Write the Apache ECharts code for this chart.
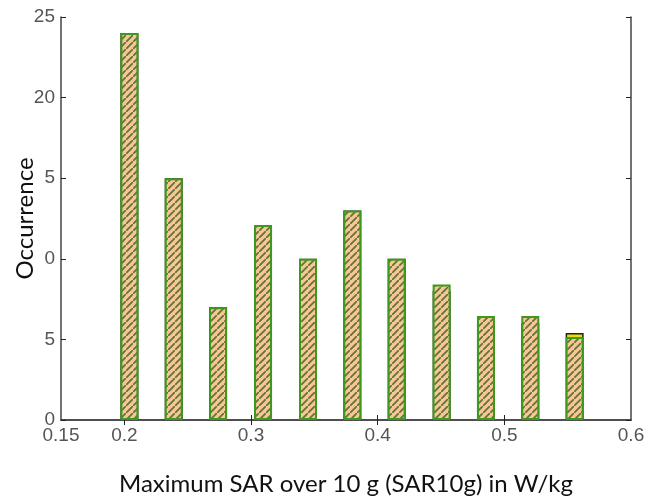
<!DOCTYPE html>
<html>
<head>
<meta charset="utf-8">
<script src="https://cdn.jsdelivr.net/npm/echarts@6/dist/echarts.min.js"></script>
<style>
  html, body { margin: 0; padding: 0; background: #fff; }
  #chart { width: 670px; height: 500px; }
</style>
</head>
<body>
<div id="chart"></div>
<script>
// bin centres (W/kg) and counts
const binCenters = [0.204, 0.239, 0.274, 0.3095, 0.345, 0.380, 0.415, 0.4505, 0.4855, 0.5205, 0.5555]
const countsFront = [24, 15, 7, 12.1, 10, 13, 10, 8.4, 6.45, 6.45, 5.15]
const countsBack = [24, 15, 7, 12, 10, 13, 10, 8, 6, 6, 5.4]
const xLabelValues = [0.15, 0.2, 0.3, 0.4, 0.5, 0.6]
const xTickValues = [0.2, 0.3, 0.4, 0.5]
const yTickLabels = ['0', '5', '0', '5', '20', '25']

// diagonal hatch pattern
function hatch() {
  const s = 7
  const c = document.createElement('canvas')
  c.width = s
  c.height = s
  const ctx = c.getContext('2d')
  ctx.fillStyle = '#f9c596'
  ctx.fillRect(0, 0, s, s)
  ctx.strokeStyle = '#5f7636'
  ctx.lineWidth = 1.8
  ctx.beginPath()
  ctx.moveTo(-1, s + 1); ctx.lineTo(s + 1, -1)
  ctx.moveTo(-s - 1, 1); ctx.lineTo(1, -s - 1)
  ctx.moveTo(s - 1, 2 * s + 1); ctx.lineTo(2 * s + 1, s - 1)
  ctx.stroke()
  return c
}

const chart = echarts.init(document.getElementById('chart'))
const tickFont = { fontFamily: 'Liberation Sans, sans-serif', fontSize: 19, color: '#555' }
const nameFont = { fontFamily: 'Lato, Open Sans, sans-serif', fontSize: 24, color: '#111' }
const lineStyle = { color: '#444', width: 1.5 }

const option = {
  animation: false,
  grid: { left: 61, right: 39, top: 17, bottom: 80, outerBoundsMode: 'none', containLabel: false },
  xAxis: [{
    type: 'value',
    min: 0.15, max: 0.6,
    name: 'Maximum SAR over 10 g (SAR10g) in W/kg',
    nameLocation: 'middle',
    nameGap: 52,
    nameMoveOverlap: false,
    nameTextStyle: nameFont,
    axisLine: { lineStyle: lineStyle },
    axisTick: { inside: true, length: 5, customValues: xTickValues, lineStyle: { color: '#222' } },
    axisLabel: Object.assign({ margin: 6, customValues: xLabelValues, formatter: v => String(Math.round(v * 100) / 100) }, tickFont),
    splitLine: { show: false }
  }, {
    type: 'value', position: 'top',
    min: 0.15, max: 0.6,
    axisLine: { show: true, lineStyle: lineStyle },
    axisTick: { show: true, inside: true, length: 5, customValues: xTickValues, lineStyle: { color: '#222' } },
    axisLabel: { show: false },
    splitLine: { show: false }
  }],
  yAxis: [{
    type: 'value',
    min: 0, max: 25, interval: 5,
    name: 'Occurrence',
    nameLocation: 'middle',
    nameGap: 24,
    nameMoveOverlap: false,
    nameTextStyle: nameFont,
    axisLine: { show: true, lineStyle: lineStyle },
    axisTick: { show: true, inside: true, length: 5, lineStyle: { color: '#222' } },
    axisLabel: Object.assign({ margin: 6, formatter: (v, i) => yTickLabels[i] }, tickFont),
    splitLine: { show: false }
  }, {
    type: 'value', position: 'right',
    min: 0, max: 25, interval: 5,
    axisLine: { show: true, lineStyle: lineStyle },
    axisTick: { show: true, inside: true, length: 5, lineStyle: { color: '#222' } },
    axisLabel: { show: false },
    splitLine: { show: false }
  }],
  series: [{
    type: 'bar',
    barWidth: 18,
    barGap: '-100%',
    data: binCenters.map((x, i) => [x, countsBack[i]]),
    itemStyle: { color: '#e6e000', borderColor: '#222', borderWidth: 1.5 },
    z: 2
  }, {
    type: 'bar',
    barWidth: 18,
    barGap: '-100%',
    data: binCenters.map((x, i) => [x, countsFront[i]]),
    itemStyle: { color: { image: hatch(), repeat: 'repeat' }, borderColor: '#3c9a1c', borderWidth: 2 },
    z: 3
  }]
}
chart.setOption(option)
</script>
</body>
</html>
